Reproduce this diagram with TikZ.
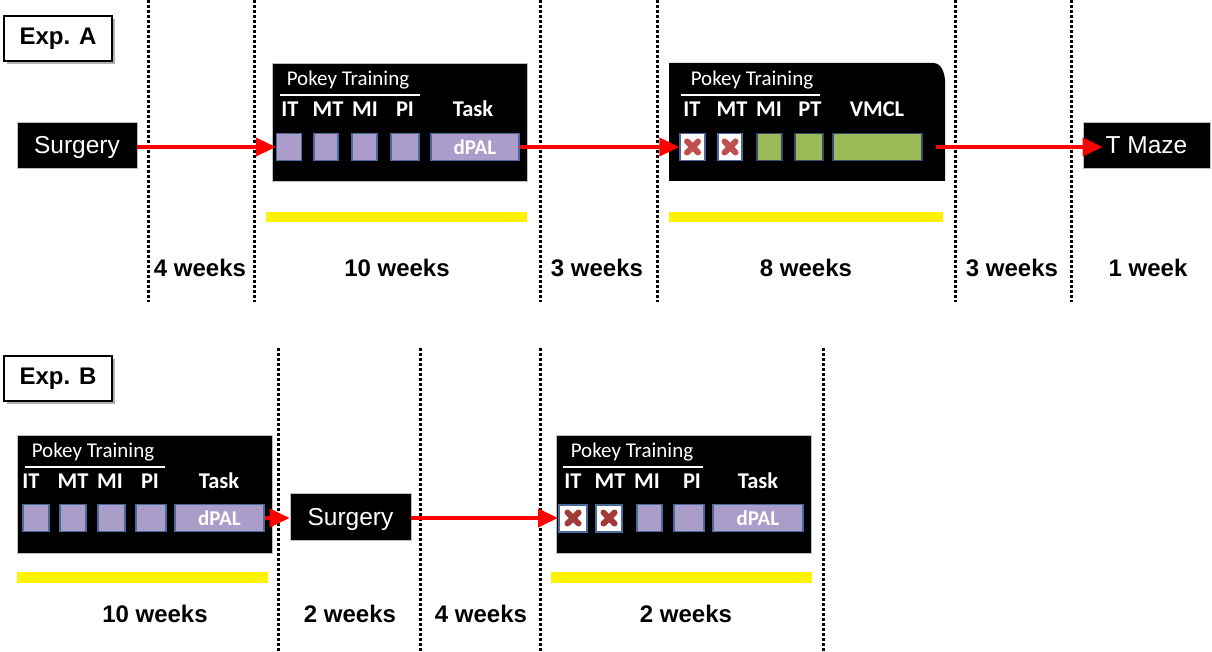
\documentclass[tikz,border=0pt]{standalone}
\usepackage{fontspec}
\setmainfont{Liberation Sans}
\newfontfamily\calfont{Carlito}
\usetikzlibrary{arrows.meta}
\definecolor{lav}{HTML}{AB9DCA}
\definecolor{sqb}{HTML}{4A6A9B}
\definecolor{grn}{HTML}{9BBB59}
\definecolor{xred}{HTML}{C0504D}
\definecolor{xdark}{HTML}{A33A3A}
\tikzset{
  dots/.style={line width=3pt, dash pattern=on 3pt off 2pt},
  blk/.style={fill=black, draw=gray!50, line width=0.6pt, inner sep=0pt},
  whitetxt/.style={text=white, text depth=0pt, font=\fontsize{24.5}{24.5}\selectfont},
  sq/.style={draw=sqb, fill=lav, line width=1.3pt, inner sep=0pt, minimum height=27pt},
  gsq/.style={draw=sqb!70!black, fill=grn, line width=1.3pt, inner sep=0pt, minimum height=27pt},
  xsq/.style={draw=sqb, fill=white, line width=1.3pt, inner sep=0pt, minimum height=27pt},
  lbl/.style={text=white, inner sep=0pt, font=\calfont\bfseries\fontsize{22.5}{22.5}\selectfont},
  ttl/.style={text=white, inner sep=0pt, font=\calfont\fontsize{21}{21}\selectfont},
  task/.style={text=white, font=\calfont\bfseries\fontsize{21}{21}\selectfont},
  uline/.style={white, line width=1.5pt},
  ybar/.style={fill=yellow, draw=none},
  wk/.style={inner sep=0pt, font=\bfseries\fontsize{24}{24}\selectfont},
  expbox/.style={draw=black, fill=white, line width=2pt, inner sep=0pt, font=\bfseries\fontsize{24}{24}\selectfont},
  arr/.style={red, line width=4pt, -{Triangle[length=20pt,width=18pt]}},
  xm/.style={line width=6pt, line cap=round}
}
\begin{document}
\begin{tikzpicture}[x=1pt,y=-1pt]
\useasboundingbox[fill=white] (0,0) rectangle (1212,652);

% dotted lines
\foreach \x in {148,254,540,657,955,1071} \draw[dots] (\x,0) -- (\x,302);
\foreach \x in {278,420,540,823} \draw[dots] (\x,348) -- (\x,652);

% Exp labels
\fill[gray!60] (7,19) rectangle (115,64);
\node[expbox, minimum width=108pt, minimum height=45pt] (expA) at (58,38.5) {Exp. A};
\fill[gray!60] (7,359) rectangle (115,404);
\node[expbox, minimum width=108pt, minimum height=45pt] (expB) at (58,378.5) {Exp. B};

% ===== Exp A =====
\node[blk, minimum width=120pt, minimum height=46pt, whitetxt] (surgA) at (77,145) {Surgery};

\node[blk, minimum width=255pt, minimum height=118pt] (boxA1) at (399.5,122) {};
\node[ttl] (a1t) at (348,80) {Pokey Training};
\draw[uline] (280,95) -- (420,95);
\node[lbl] (a1l1) at (290,109) {IT};
\node[lbl] (a1l2) at (328,109) {MT};
\node[lbl] (a1l3) at (365,109) {MI};
\node[lbl] (a1l4) at (405,109) {PI};
\node[lbl] (a1l5) at (473,109) {Task};
\node[sq, minimum width=25pt] (a1s1) at (289,147) {};
\node[sq, minimum width=24pt] (a1s2) at (326,147) {};
\node[sq, minimum width=25pt] (a1s3) at (364.5,147) {};
\node[sq, minimum width=28pt] (a1s4) at (405,147) {};
\node[sq, minimum width=88pt, task] (a1s5) at (475,147) {dPAL};
\fill[ybar] (266,212) rectangle (527,222);

\fill[black] (669,63) -- (933,63) to[out=0,in=95] (945,80) -- (945,181) -- (669,181) -- cycle;
\node[inner sep=0pt, minimum width=276pt, minimum height=118pt] (boxA2) at (807,122) {};
\node[ttl] (a2t) at (752,80) {Pokey Training};
\draw[uline] (681,95) -- (820,95);
\node[lbl] (a2l1) at (692,109) {IT};
\node[lbl] (a2l2) at (732,109) {MT};
\node[lbl] (a2l3) at (769,109) {MI};
\node[lbl] (a2l4) at (810,109) {PT};
\node[lbl] (a2l5) at (877,109) {VMCL};
\node[xsq, minimum width=25pt] (a2s1) at (692.5,147) {};
\node[xsq, minimum width=24pt] (a2s2) at (730,147) {};
\node[gsq, minimum width=25pt] (a2s3) at (769.5,147) {};
\node[gsq, minimum width=28pt] (a2s4) at (809,147) {};
\node[gsq, minimum width=89pt] (a2s5) at (877.5,147) {};
\foreach \n in {a2s1,a2s2} {
  \draw[xm, xred] ([shift={(-5.5,-5.5)}]\n.center) -- ([shift={(5.5,5.5)}]\n.center);
  \draw[xm, xred] ([shift={(-5.5,5.5)}]\n.center) -- ([shift={(5.5,-5.5)}]\n.center);
}
\fill[ybar] (669,212) rectangle (943,222);

\node[blk, minimum width=127pt, minimum height=46pt, whitetxt] (tmaze) at (1146.5,145) {T Maze};

\draw[arr] (surgA.east |- a1s1.west) -- (a1s1.west);
\draw[arr] (a1s5.east) -- (a2s1.west);
\draw[arr] ([xshift=13pt]a2s5.east) -- ([xshift=20pt]tmaze.west |- a2s5.east);

\node[wk] (wA1) at (200,268) {4 weeks};
\node[wk] (wA2) at (397,268) {10 weeks};
\node[wk] (wA3) at (597,268) {3 weeks};
\node[wk] (wA4) at (806,268) {8 weeks};
\node[wk] (wA5) at (1012,268) {3 weeks};
\node[wk] (wA6) at (1148,268) {1 week};

% ===== Exp B =====
\node[blk, minimum width=255pt, minimum height=118pt] (boxB1) at (144.5,494) {};
\node[ttl] (b1t) at (93,452) {Pokey Training};
\draw[uline] (25,467) -- (165,467);
\node[lbl] (b1l1) at (31,481) {IT};
\node[lbl] (b1l2) at (73,481) {MT};
\node[lbl] (b1l3) at (110,481) {MI};
\node[lbl] (b1l4) at (150,481) {PI};
\node[lbl] (b1l5) at (219,481) {Task};
\node[sq, minimum width=26pt] (b1s1) at (36,518) {};
\node[sq, minimum width=26pt] (b1s2) at (73,518) {};
\node[sq, minimum width=27pt] (b1s3) at (111.5,518) {};
\node[sq, minimum width=30pt] (b1s4) at (151,518) {};
\node[sq, minimum width=89pt, task] (b1s5) at (219.5,518) {dPAL};
\fill[ybar] (17,572) rectangle (268,583);

\node[blk, minimum width=121pt, minimum height=47pt, whitetxt] (surgB) at (350.5,516.5) {Surgery};

\node[blk, minimum width=255pt, minimum height=118pt] (boxB2) at (683.5,494) {};
\node[ttl] (b2t) at (632,452) {Pokey Training};
\draw[uline] (563,467) -- (703,467);
\node[lbl] (b2l1) at (573,481) {IT};
\node[lbl] (b2l2) at (610,481) {MT};
\node[lbl] (b2l3) at (647,481) {MI};
\node[lbl] (b2l4) at (692,481) {PI};
\node[lbl] (b2l5) at (758,481) {Task};
\node[xsq, minimum width=28pt, line width=2pt] (b2s1) at (573,518) {};
\node[xsq, minimum width=26pt, line width=2pt] (b2s2) at (609,518) {};
\node[sq, minimum width=25pt] (b2s3) at (649.5,518) {};
\node[sq, minimum width=30pt] (b2s4) at (689,518) {};
\node[sq, minimum width=90pt, task] (b2s5) at (758,518) {dPAL};
\foreach \n in {b2s1,b2s2} {
  \draw[xm, xdark] ([shift={(-5.5,-5.5)}]\n.center) -- ([shift={(5.5,5.5)}]\n.center);
  \draw[xm, xdark] ([shift={(-5.5,5.5)}]\n.center) -- ([shift={(5.5,-5.5)}]\n.center);
}
\fill[ybar] (551,572) rectangle (812,583);

\draw[arr] (b1s5.east) -- (surgB.west |- b1s5.east);
\draw[arr] (surgB.east |- b2s1.west) -- (b2s1.west);

\node[wk] (wB1) at (155,614) {10 weeks};
\node[wk] (wB2) at (350,614) {2 weeks};
\node[wk] (wB3) at (481,614) {4 weeks};
\node[wk] (wB4) at (686,614) {2 weeks};
\end{tikzpicture}
\end{document}
